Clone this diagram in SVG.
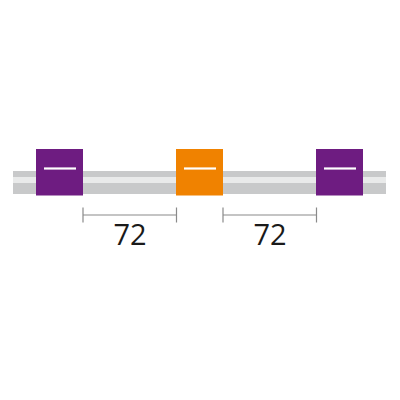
<svg xmlns="http://www.w3.org/2000/svg" width="400" height="400" viewBox="0 0 400 400">
<style>
.tube{fill:#c8c9ca}
.stripe{fill:#e9eaea}
.dash{stroke:#ffffff;stroke-width:2.2}
.dim{stroke:#8a8a8a;stroke-width:1.2;fill:none}
.lbl{font-family:"Open Sans","Noto Sans",sans-serif;font-size:29px;fill:#1a1a1a;text-anchor:middle}
</style>
<rect width="400" height="400" fill="#ffffff"/>
<g id="tube">
<rect class="tube" x="13" y="171" width="373" height="23"/>
<rect class="stripe" x="13" y="177" width="373" height="6"/>
</g>
<g id="band1">
<rect x="36" y="149" width="47" height="46.5" fill="#6e1c81"/>
<line class="dash" x1="44" y1="168.5" x2="76" y2="168.5"/>
</g>
<g id="band2">
<rect x="176" y="149" width="47" height="46.5" fill="#f08200"/>
<line class="dash" x1="184" y1="168.5" x2="216" y2="168.5"/>
</g>
<g id="band3">
<rect x="316" y="149" width="47" height="46.5" fill="#6e1c81"/>
<line class="dash" x1="324" y1="168.5" x2="356" y2="168.5"/>
</g>
<g id="connectors">
<path class="dim" d="M83 207.5V222.5M83 215H176.5M176.5 207.5V222.5"/>
<path class="dim" d="M223 207.5V222.5M223 215H316.5M316.5 207.5V222.5"/>
</g>
<g id="labels">
<text class="lbl" x="130" y="245">72</text>
<text class="lbl" x="270" y="245">72</text>
</g>
</svg>
